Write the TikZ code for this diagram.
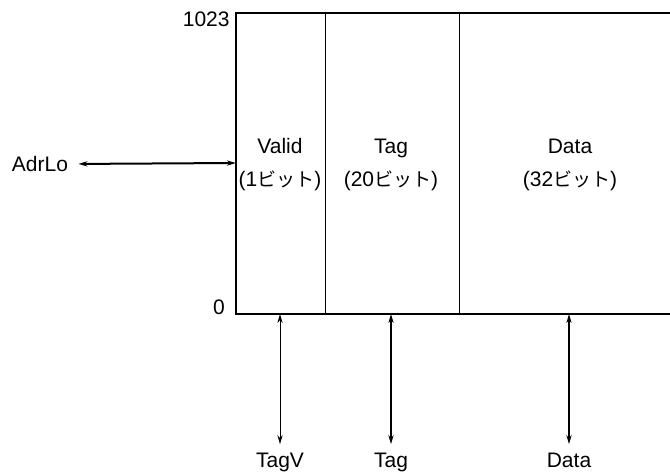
\documentclass[tikz,border=0pt]{standalone}
\usepackage{fontspec}
\setmainfont{Liberation Sans}
\newfontfamily\cjk{Noto Sans CJK JP}
\usetikzlibrary{arrows.meta}

\begin{document}
\begin{tikzpicture}[x=0.5pt,y=-0.5pt
,frame/.style={color=black,line width=1.1pt}
,divider/.style={color=black,line width=0.45pt}
,txt/.style={color=black,inner sep=0,font=\fontsize{10.5}{12}\selectfont}
,bus/.style={{Stealth[length=4.5pt,width=2.6pt]}-{Stealth[length=4.5pt,width=2.6pt]},color=black}
]
\useasboundingbox (0,0) rectangle (670,476);
% memory array, open to the right
\coordinate (topleft) at (236,13);
\coordinate (botleft) at (236,314);
\draw[frame] (670,13) -- (topleft) -- (botleft) -- (670,314);
\draw[divider] (325,13) -- (325,314);
\draw[divider] (459,13) -- (459,314);
\node[txt,anchor=base east] (hi) at (230,27) {1023};
\node[txt] (lo) at (219,307) {0};
% fields
\node[txt,anchor=base] (valid) at (280,154) {Valid};
\node[txt,anchor=base] (validw) at (280,187) {(1{\cjk\fontsize{9.5}{12}\selectfont ビット})};
\node[txt,anchor=base] (tag) at (391,154) {Tag};
\node[txt,anchor=base] (tagw) at (391,187) {(20{\cjk\fontsize{9.5}{12}\selectfont ビット})};
\node[txt,anchor=base] (data) at (570,154) {Data};
\node[txt,anchor=base] (dataw) at (570,187) {(32{\cjk\fontsize{9.5}{12}\selectfont ビット})};
% address
\coordinate (adrport) at (236,163);
\node[txt] (adrlo) at (40,164) {AdrLo};
\draw[bus,line width=1pt,shorten <=5pt] (adrlo.east) -- (adrport);
% ports below
\coordinate (tagvport) at (280,314);
\coordinate (tagport) at (391,314);
\coordinate (dataport) at (569,314);
\node[txt,anchor=base] (tagvout) at (280,467) {TagV};
\node[txt,anchor=base] (tagout) at (391,467) {Tag};
\node[txt,anchor=base] (dataout) at (569,467) {Data};
\draw[bus,line width=0.5pt,shorten >=4pt] (tagvport) -- (tagvout.north);
\draw[bus,line width=1.3pt,shorten >=4pt] (tagport) -- (tagout.north);
\draw[bus,line width=0.9pt,shorten >=4pt] (dataport) -- (dataout.north);
\end{tikzpicture}
\end{document}
